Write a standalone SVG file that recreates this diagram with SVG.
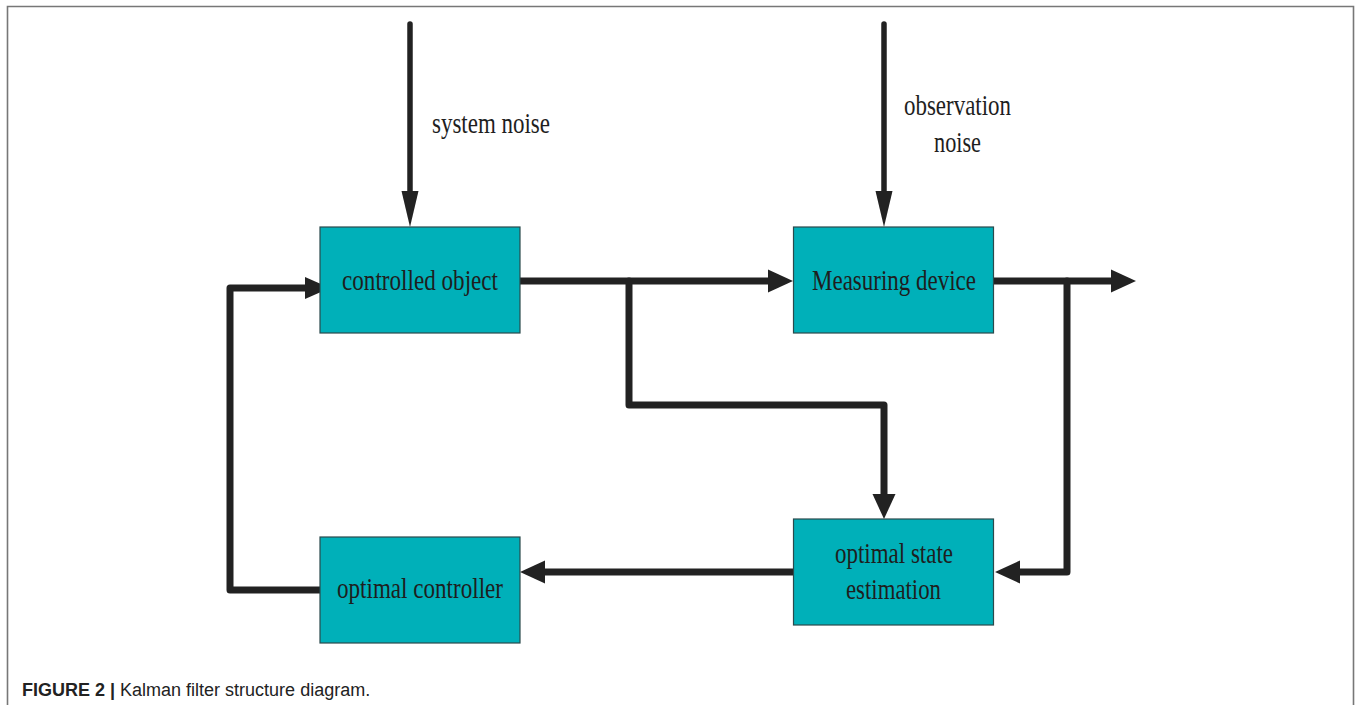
<svg xmlns="http://www.w3.org/2000/svg" width="1356" height="705" viewBox="0 0 1356 705">
<defs>
<style>
.box{fill:#00b0b9;stroke:#2a4a4c;stroke-width:1.2}
.lbl{font-family:"Liberation Serif","Times New Roman",serif;font-size:29px;fill:#1e1e1e;text-anchor:middle}
.note{font-family:"Liberation Serif","Times New Roman",serif;font-size:29px;fill:#1e1e1e}
.wire{fill:none;stroke:#222;stroke-width:7;stroke-linejoin:round;stroke-linecap:round}
.thin{fill:none;stroke:#222;stroke-width:5.5;stroke-linecap:round}
.head{fill:#222}
.cap{font-family:"Liberation Sans",Arial,sans-serif;font-size:18px;fill:#222}
</style>
</defs>
<rect width="1356" height="705" fill="#fff"/>
<polyline points="7.5,705 7.5,6.5 1353.5,6.5 1353.5,705" fill="none" stroke="#777" stroke-width="1.6"/>

<g id="connectors">
  <line class="thin" x1="410" y1="24" x2="410" y2="196"/>
  <polygon class="head" points="410,227 401.5,191 418.5,191"/>
  <line class="thin" x1="884" y1="24" x2="884" y2="196"/>
  <polygon class="head" points="884,227 875.5,191 892.5,191"/>

  <path class="wire" d="M520,281 H770"/>
  <polygon class="head" points="793,281 768,269.5 768,292.5"/>

  <path class="wire" d="M629,281 V405 H884 V496"/>
  <polygon class="head" points="884,519 872.5,494 895.5,494"/>

  <path class="wire" d="M994,281 H1113"/>
  <polygon class="head" points="1136,281 1111,269.5 1111,292.5"/>

  <path class="wire" d="M1067,281 V572 H1018"/>
  <polygon class="head" points="995,572 1020,560.5 1020,583.5"/>

  <path class="wire" d="M794,572 H543"/>
  <polygon class="head" points="520,572 545,560.5 545,583.5"/>

  <path class="wire" d="M320,590 H230 V288 H308"/>
  <polygon class="head" points="330,288 305,277 305,299"/>
</g>

<g id="system-noise-label">
  <text class="note" x="432" y="133" textLength="118" lengthAdjust="spacingAndGlyphs">system noise</text>
</g>
<g id="observation-noise-label">
  <text class="note" x="904" y="115" textLength="107" lengthAdjust="spacingAndGlyphs">observation</text>
  <text class="note" x="934" y="152" textLength="47" lengthAdjust="spacingAndGlyphs">noise</text>
</g>

<g id="controlled-object">
  <rect class="box" x="320" y="227" width="200" height="106"/>
  <text class="lbl" x="420" y="290" textLength="156" lengthAdjust="spacingAndGlyphs">controlled object</text>
</g>
<g id="measuring-device">
  <rect class="box" x="793.5" y="227" width="200" height="106"/>
  <text class="lbl" x="894" y="290" textLength="164" lengthAdjust="spacingAndGlyphs">Measuring device</text>
</g>
<g id="optimal-state-estimation">
  <rect class="box" x="793.5" y="519" width="200" height="106"/>
  <text class="lbl" x="894" y="563" textLength="118" lengthAdjust="spacingAndGlyphs">optimal state</text>
  <text class="lbl" x="893.5" y="599" textLength="95" lengthAdjust="spacingAndGlyphs">estimation</text>
</g>
<g id="optimal-controller">
  <rect class="box" x="320" y="537" width="200" height="106"/>
  <text class="lbl" x="420" y="598" textLength="166" lengthAdjust="spacingAndGlyphs">optimal controller</text>
</g>

<text class="cap" x="22" y="696"><tspan font-weight="bold">FIGURE 2 |</tspan> Kalman filter structure diagram.</text>
</svg>
